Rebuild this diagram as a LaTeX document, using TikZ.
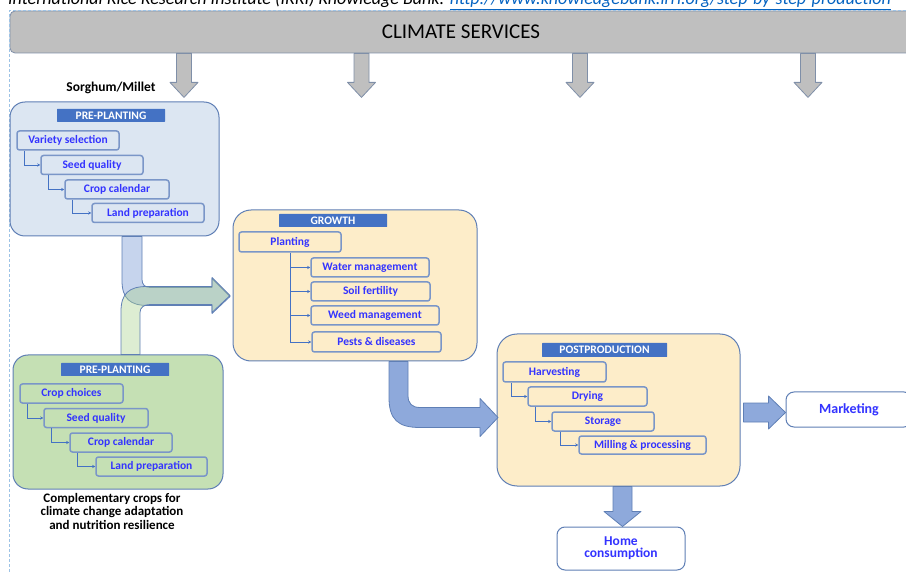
\documentclass[tikz,border=0pt]{standalone}
\usepackage{fontspec}
\setmainfont{Carlito}
\usetikzlibrary{arrows.meta, calc}

\definecolor{skyfill}{HTML}{DCE6F2}
\definecolor{leaffill}{HTML}{C5E0B4}
\definecolor{creamfill}{HTML}{FDEDC9}
\definecolor{boxline}{HTML}{5F7FB5}
\definecolor{stepline}{HTML}{7A96C8}
\definecolor{hdrblue}{HTML}{4472C4}
\definecolor{txtblue}{HTML}{3333FF}
\definecolor{arrowblue}{HTML}{8EA9DB}
\definecolor{armgreen}{HTML}{A9D18E}
\definecolor{barline}{HTML}{7F8FA8}
\definecolor{linkblue}{HTML}{0563C1}
\definecolor{selblue}{HTML}{9DC3E6}

\begin{document}
\begin{tikzpicture}[x=1pt, y=-1pt,
  bigbox/.style={draw=boxline, line width=1pt, rounded corners=15pt, inner sep=0pt},
  header/.style={fill=hdrblue, text=white, inner sep=0pt, rounded corners=0.5pt, font=\fontsize{11.5}{12}\selectfont\bfseries},
  stepbox/.style={draw=stepline, line width=1.5pt, rounded corners=2.5pt, inner sep=0pt, minimum height=19pt, text=txtblue, font=\fontsize{11.5}{12}\selectfont\bfseries},
  conn/.style={draw=hdrblue, line width=0.6pt, -{Stealth[length=3pt, width=3pt]}},
  blockarrow/.style={draw=boxline, line width=0.8pt, line join=round, fill=arrowblue},
  grayarrow/.style={draw=barline, line width=0.8pt, line join=round, fill=black!25}]

  \useasboundingbox (0,0) rectangle (906,572);
  \clip (0,0) rectangle (906,572);

  % source line (cut at the top)
  \node[anchor=base west, inner sep=0pt, font=\fontsize{18}{18}\selectfont\itshape] (source) at (8,5)
    {International Rice Research Institute (IRRI) Knowledge Bank: \textcolor{linkblue}{\underline{http://www.knowledgebank.irri.org/step-by-step-production}}};

  % Climate services bar
  \node[draw=barline, fill=black!25, line width=0.8pt, rounded corners=5pt, minimum width=902pt, minimum height=42pt, inner sep=0pt, font=\fontsize{21}{22}\selectfont] (climate) at (461,32) {CLIMATE SERVICES};
  \draw[selblue, line width=0.8pt, dash pattern=on 3pt off 2pt] (906,10.5) -- (9.5,10.5) -- (9.5,572);

  \draw[grayarrow] ($(climate.south)+(-284.5,0)$) -- ++(15,0) -- ++(0,29) -- ++(6.5,0) -- ++(-14,15) -- ++(-14,-15) -- ++(6.5,0) -- cycle;
  \draw[grayarrow] ($(climate.south)+(-107,0)$) -- ++(15,0) -- ++(0,29) -- ++(6.5,0) -- ++(-14,15) -- ++(-14,-15) -- ++(6.5,0) -- cycle;
  \draw[grayarrow] ($(climate.south)+(111.5,0)$) -- ++(15,0) -- ++(0,29) -- ++(6.5,0) -- ++(-14,15) -- ++(-14,-15) -- ++(6.5,0) -- cycle;
  \draw[grayarrow] ($(climate.south)+(339.5,0)$) -- ++(15,0) -- ++(0,29) -- ++(6.5,0) -- ++(-14,15) -- ++(-14,-15) -- ++(6.5,0) -- cycle;

  \node[font=\fontsize{13.5}{14}\selectfont\bfseries] (crop) at (111,88) {Sorghum/Millet};

  % Pre-planting (sorghum/millet)
  \node[bigbox, fill=skyfill, minimum width=209pt, minimum height=134pt] (pp1) at (114.5,169) {};
  \node[header, minimum width=108pt, minimum height=13pt] (hpp1) at (111,115.5) {PRE-PLANTING};
  \node[stepbox, fill=skyfill, minimum width=102pt] (vs) at (68,140.5) {Variety selection};
  \node[stepbox, fill=skyfill, minimum width=102pt] (sq1) at (92,165) {Seed quality};
  \node[stepbox, fill=skyfill, minimum width=104pt] (cc1) at (117,189.5) {Crop calendar};
  \node[stepbox, fill=skyfill, minimum width=112pt] (lp1) at (148,213) {Land preparation};
  \draw[conn] ([xshift=8pt]vs.south west) |- (sq1.west);
  \draw[conn] ([xshift=8pt]sq1.south west) |- (cc1.west);
  \draw[conn] ([xshift=8pt]cc1.south west) |- (lp1.west);

  % Pre-planting (complementary crops)
  \node[bigbox, fill=leaffill, minimum width=210pt, minimum height=134pt] (pp2) at (118,422) {};
  \node[header, minimum width=108pt, minimum height=13pt] (hpp2) at (115,369.5) {PRE-PLANTING};
  \node[stepbox, fill=leaffill, minimum width=103pt] (cch) at (71.5,393.5) {Crop choices};
  \node[stepbox, fill=leaffill, minimum width=104pt] (sq2) at (96,418) {Seed quality};
  \node[stepbox, fill=leaffill, minimum width=102pt] (cc2) at (121,442.5) {Crop calendar};
  \node[stepbox, fill=leaffill, minimum width=111pt] (lp2) at (151.5,466.5) {Land preparation};
  \draw[conn] ([xshift=8pt]cch.south west) |- (sq2.west);
  \draw[conn] ([xshift=8pt]sq2.south west) |- (cc2.west);
  \draw[conn] ([xshift=8pt]cc2.south west) |- (lp2.west);
  \node[align=center, font=\fontsize{13}{13.5}\selectfont\bfseries] (note) at (112,511) {Complementary crops for\\climate change adaptation\\and nutrition resilience};

  % Growth
  \node[bigbox, fill=creamfill, rounded corners=18pt, minimum width=244pt, minimum height=151pt] (growth) at (355,285.5) {};
  \node[header, minimum width=108pt, minimum height=13pt] (hgrowth) at (333,220.5) {GROWTH};
  \node[stepbox, fill=creamfill, minimum width=102pt, minimum height=20pt] (planting) at (290,242) {Planting};
  \node[stepbox, fill=creamfill, minimum width=118pt] (water) at (370,267.5) {Water management};
  \node[stepbox, fill=creamfill, minimum width=119pt] (soil) at (370.5,291.5) {Soil fertility};
  \node[stepbox, fill=creamfill, minimum width=128pt] (weed) at (375,315.5) {Weed management};
  \node[stepbox, fill=creamfill, minimum width=129pt, minimum height=20pt] (pests) at (376.5,342) {Pests \& diseases};
  \draw[conn] (planting.south) |- (pests.west);
  \draw[conn] (planting.south |- water.west) -- (water.west);
  \draw[conn] (planting.south |- soil.west) -- (soil.west);
  \draw[conn] (planting.south |- weed.west) -- (weed.west);

  % bent arrows into growth
  \draw[boxline, line width=0.8pt, line join=round, fill=arrowblue, fill opacity=0.5] ($(pp1.south)+(7.5,0)$) -- ++(0,44)
    .. controls +(0,18) and +(-18,0) .. ++(26,25) -- ++(64,0) -- ++(0,8) -- ++(18,-17) -- ++(-18,-18) -- ++(0,9) -- ++(-62,0)
    .. controls +(-5,0) and +(0,5) .. ++(-8,-8) -- ++(0,-43) -- cycle;
  \draw[boxline, line width=0.8pt, line join=round, fill=armgreen, fill opacity=0.4] ($(pp2.north)+(3,0)$) -- ++(0,-43)
    .. controls +(0,-18) and +(-18,0) .. ++(26,-25) -- ++(65,0) -- ++(0,-9) -- ++(18,18) -- ++(-18,17) -- ++(0,-8) -- ++(-62,0)
    .. controls +(-6,0) and +(0,-5) .. ++(-10,8) -- ++(0,42) -- cycle;

  % Postproduction
  \node[bigbox, fill=creamfill, rounded corners=20pt, minimum width=243pt, minimum height=152pt] (post) at (618.5,410) {};
  \node[header, minimum width=125pt, minimum height=14pt] (hpost) at (604.5,350) {POSTPRODUCTION};
  \node[stepbox, fill=creamfill, minimum width=103pt, minimum height=20pt] (harv) at (554.5,372) {Harvesting};
  \node[stepbox, fill=creamfill, minimum width=119pt] (dry) at (587.5,396.5) {Drying};
  \node[stepbox, fill=creamfill, minimum width=102pt] (stor) at (603,421.5) {Storage};
  \node[stepbox, fill=creamfill, minimum width=127pt, minimum height=18pt] (mill) at (642.5,445) {Milling \& processing};
  \draw[conn] ([xshift=9pt]harv.south west) |- (dry.west);
  \draw[conn] ([xshift=8pt]dry.south west) |- (stor.west);
  \draw[conn] ([xshift=9pt]stor.south west) |- (mill.west);

  \draw[blockarrow] ($(growth.south)+(34,0)$) -- ++(0,36)
    .. controls +(0,22) and +(-22,0) .. ++(31,30) -- ++(60,0) -- ++(0,9) -- ++(18,-19) -- ++(-18,-19) -- ++(0,9) -- ++(-60,0)
    .. controls +(-8,0) and +(0,8) .. ++(-12,-12) -- ++(0,-34) -- cycle;

  % Outlets
  \node[draw=boxline, fill=white, line width=1pt, rounded corners=8pt, minimum width=126pt, minimum height=35pt, inner sep=0pt, text=txtblue, font=\fontsize{14}{14}\selectfont\bfseries] (market) at (849,409.5) {Marketing};
  \node[draw=boxline, fill=white, line width=1pt, rounded corners=8pt, minimum width=128pt, minimum height=43pt, inner sep=0pt, align=center, text=txtblue, font=\fontsize{13.5}{12}\selectfont\bfseries] (home) at (621,548.5) {Home\\consumption};

  \draw[blockarrow] ($(post.east)+(3,-7)$) -- ++(25,0) -- ++(0,-7) -- ++(17,16.5) -- ++(-17,16.5) -- ++(0,-7) -- ++(-25,0) -- cycle;
  \draw[blockarrow] ($(post.south)+(-5.5,0)$) -- ++(19,0) -- ++(0,25) -- ++(9,0) -- ++(-18.5,15) -- ++(-18.5,-15) -- ++(9,0) -- cycle;

\end{tikzpicture}
\end{document}
